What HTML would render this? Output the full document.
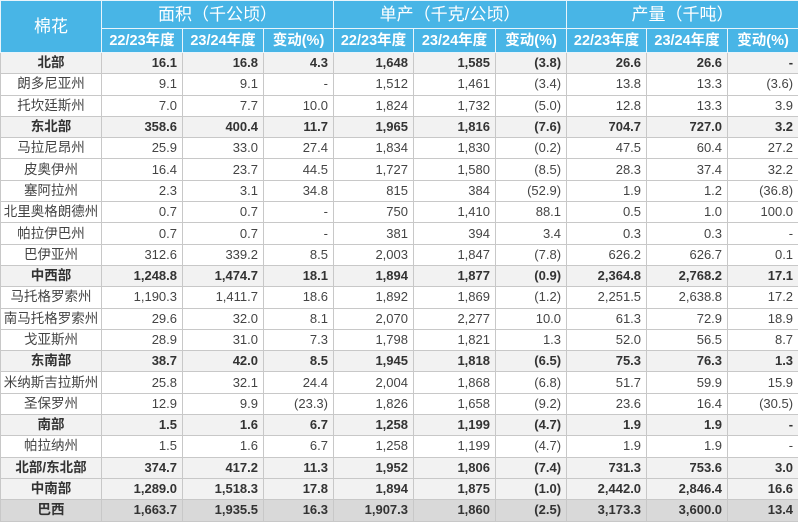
<!DOCTYPE html><html><head><meta charset="utf-8"><style>
body{margin:0;background:#fff;}
table{position:absolute;left:0;top:0;width:798px;border-collapse:collapse;table-layout:fixed;font-family:"Liberation Sans","Noto Sans CJK SC",sans-serif;font-size:13px;color:#444;}
td,th{border:1px solid #c8c8c8;padding:0 5px;text-align:right;white-space:nowrap;overflow:hidden;line-height:16px;}
th{background:#48b5e6;color:#fff;border-color:#e8f4fb;text-align:center;font-weight:bold;padding:0;}
tr.h1 th{height:27px;font-size:17px;font-weight:normal;line-height:20px;}
tr.h2 th{height:23px;font-size:14.5px;}
tr.d td{height:20.3px;}
td:first-child{text-align:center;padding:0;font-size:13.5px;}
tr.b td{font-weight:bold;background:#f2f2f2;color:#333;}
tr.t td{font-weight:bold;background:#d9d9d9;color:#333;}
</style></head><body>
<table>
<colgroup><col style="width:101px"><col style="width:81px"><col style="width:81px"><col style="width:70px"><col style="width:80px"><col style="width:82px"><col style="width:71px"><col style="width:80px"><col style="width:81px"><col style="width:71px"></colgroup>
<tr class="h1"><th rowspan="2" style="font-size:17px">棉花</th><th colspan="3">面积（千公顷）</th><th colspan="3">单产（千克/公顷）</th><th colspan="3">产量（千吨）</th></tr>
<tr class="h2"><th>22/23年度</th><th>23/24年度</th><th>变动(%)</th><th>22/23年度</th><th>23/24年度</th><th>变动(%)</th><th>22/23年度</th><th>23/24年度</th><th>变动(%)</th></tr>
<tr class="d b"><td>北部</td><td>16.1</td><td>16.8</td><td>4.3</td><td>1,648</td><td>1,585</td><td>(3.8)</td><td>26.6</td><td>26.6</td><td>-</td></tr>
<tr class="d"><td>朗多尼亚州</td><td>9.1</td><td>9.1</td><td>-</td><td>1,512</td><td>1,461</td><td>(3.4)</td><td>13.8</td><td>13.3</td><td>(3.6)</td></tr>
<tr class="d"><td>托坎廷斯州</td><td>7.0</td><td>7.7</td><td>10.0</td><td>1,824</td><td>1,732</td><td>(5.0)</td><td>12.8</td><td>13.3</td><td>3.9</td></tr>
<tr class="d b"><td>东北部</td><td>358.6</td><td>400.4</td><td>11.7</td><td>1,965</td><td>1,816</td><td>(7.6)</td><td>704.7</td><td>727.0</td><td>3.2</td></tr>
<tr class="d"><td>马拉尼昂州</td><td>25.9</td><td>33.0</td><td>27.4</td><td>1,834</td><td>1,830</td><td>(0.2)</td><td>47.5</td><td>60.4</td><td>27.2</td></tr>
<tr class="d"><td>皮奥伊州</td><td>16.4</td><td>23.7</td><td>44.5</td><td>1,727</td><td>1,580</td><td>(8.5)</td><td>28.3</td><td>37.4</td><td>32.2</td></tr>
<tr class="d"><td>塞阿拉州</td><td>2.3</td><td>3.1</td><td>34.8</td><td>815</td><td>384</td><td>(52.9)</td><td>1.9</td><td>1.2</td><td>(36.8)</td></tr>
<tr class="d"><td>北里奥格朗德州</td><td>0.7</td><td>0.7</td><td>-</td><td>750</td><td>1,410</td><td>88.1</td><td>0.5</td><td>1.0</td><td>100.0</td></tr>
<tr class="d"><td>帕拉伊巴州</td><td>0.7</td><td>0.7</td><td>-</td><td>381</td><td>394</td><td>3.4</td><td>0.3</td><td>0.3</td><td>-</td></tr>
<tr class="d"><td>巴伊亚州</td><td>312.6</td><td>339.2</td><td>8.5</td><td>2,003</td><td>1,847</td><td>(7.8)</td><td>626.2</td><td>626.7</td><td>0.1</td></tr>
<tr class="d b"><td>中西部</td><td>1,248.8</td><td>1,474.7</td><td>18.1</td><td>1,894</td><td>1,877</td><td>(0.9)</td><td>2,364.8</td><td>2,768.2</td><td>17.1</td></tr>
<tr class="d"><td>马托格罗索州</td><td>1,190.3</td><td>1,411.7</td><td>18.6</td><td>1,892</td><td>1,869</td><td>(1.2)</td><td>2,251.5</td><td>2,638.8</td><td>17.2</td></tr>
<tr class="d"><td>南马托格罗索州</td><td>29.6</td><td>32.0</td><td>8.1</td><td>2,070</td><td>2,277</td><td>10.0</td><td>61.3</td><td>72.9</td><td>18.9</td></tr>
<tr class="d"><td>戈亚斯州</td><td>28.9</td><td>31.0</td><td>7.3</td><td>1,798</td><td>1,821</td><td>1.3</td><td>52.0</td><td>56.5</td><td>8.7</td></tr>
<tr class="d b"><td>东南部</td><td>38.7</td><td>42.0</td><td>8.5</td><td>1,945</td><td>1,818</td><td>(6.5)</td><td>75.3</td><td>76.3</td><td>1.3</td></tr>
<tr class="d"><td>米纳斯吉拉斯州</td><td>25.8</td><td>32.1</td><td>24.4</td><td>2,004</td><td>1,868</td><td>(6.8)</td><td>51.7</td><td>59.9</td><td>15.9</td></tr>
<tr class="d"><td>圣保罗州</td><td>12.9</td><td>9.9</td><td>(23.3)</td><td>1,826</td><td>1,658</td><td>(9.2)</td><td>23.6</td><td>16.4</td><td>(30.5)</td></tr>
<tr class="d b"><td>南部</td><td>1.5</td><td>1.6</td><td>6.7</td><td>1,258</td><td>1,199</td><td>(4.7)</td><td>1.9</td><td>1.9</td><td>-</td></tr>
<tr class="d"><td>帕拉纳州</td><td>1.5</td><td>1.6</td><td>6.7</td><td>1,258</td><td>1,199</td><td>(4.7)</td><td>1.9</td><td>1.9</td><td>-</td></tr>
<tr class="d b"><td>北部/东北部</td><td>374.7</td><td>417.2</td><td>11.3</td><td>1,952</td><td>1,806</td><td>(7.4)</td><td>731.3</td><td>753.6</td><td>3.0</td></tr>
<tr class="d b"><td>中南部</td><td>1,289.0</td><td>1,518.3</td><td>17.8</td><td>1,894</td><td>1,875</td><td>(1.0)</td><td>2,442.0</td><td>2,846.4</td><td>16.6</td></tr>
<tr class="d t"><td>巴西</td><td>1,663.7</td><td>1,935.5</td><td>16.3</td><td>1,907.3</td><td>1,860</td><td>(2.5)</td><td>3,173.3</td><td>3,600.0</td><td>13.4</td></tr>
</table>
</body></html>
